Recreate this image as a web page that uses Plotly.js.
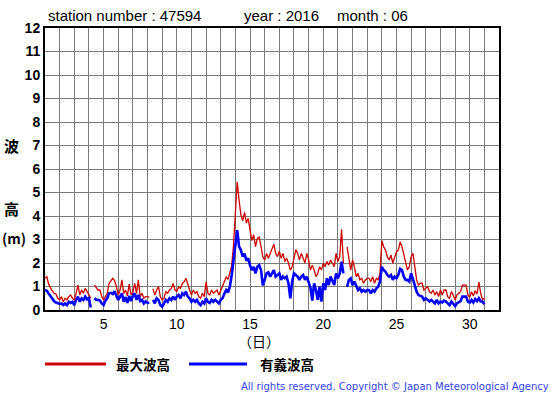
<!DOCTYPE html>
<html><head><meta charset="utf-8">
<script src="https://cdn.plot.ly/plotly-3.0.1.min.js"></script>
<style>html,body{margin:0;padding:0;background:#fff}</style>
</head><body><div id="chart" style="width:555px;height:395px"></div>
<script>
// ---- data (3-hourly readings, day 1 00h .. day 31 00h) ----
const labelDays = [5, 10, 15, 20, 25, 30];
const heightTicks = [0,1,2,3,4,5,6,7,8,9,10,11,12];
const seriesNames = ['最大波高', '有義波高'];
const maxWave = [
 1.35,1.42,1.1,0.92,0.8,0.71,0.68,0.5,
 0.43,0.57,0.35,0.5,0.43,0.57,0.64,0.5,
 0.43,0.71,1.06,0.64,0.85,0.71,0.92,0.78,
 0.64,0.5,null,1.06,0.95,0.85,0.85,0.57,
 0.43,0.6,0.71,1.13,1.25,1.35,1.25,1.0,
 0.64,0.85,1.28,0.71,0.85,0.6,1.1,0.64,
 0.75,1.13,0.71,1.28,0.57,0.71,0.5,0.57,
 0.57,0.55,null,0.9,0.64,0.85,1.0,0.57,
 0.43,0.5,0.78,0.71,0.85,0.92,1.13,0.85,
 0.8,0.99,0.92,1.13,1.2,1.35,1.06,0.85,
 0.64,0.85,0.71,0.78,0.57,0.5,0.71,0.57,
 1.2,0.71,0.64,0.85,0.71,0.78,0.85,0.64,
 0.85,1.0,1.2,1.4,1.3,1.55,1.9,2.8,
 4.1,5.46,4.68,4.05,3.8,4.15,3.7,3.9,
 3.4,2.95,3.2,2.7,3.05,3.1,2.7,2.25,
 2.13,2.4,2.2,2.4,2.6,2.8,2.41,2.27,
 2.5,2.2,2.41,2.06,2.2,2.0,1.7,1.84,
 2.2,2.57,2.41,2.13,2.41,2.2,2.0,2.41,
 2.13,1.7,1.91,1.7,1.42,1.56,1.84,1.7,
 1.99,1.84,2.06,1.91,2.13,1.99,1.84,2.41,
 2.06,2.27,3.43,1.99,null,2.69,2.27,1.7,
 2.13,1.84,1.42,1.56,1.28,1.35,1.14,1.28,
 1.35,1.35,1.21,1.42,1.14,1.35,1.28,1.56,
 2.95,2.69,2.55,2.27,2.13,2.34,1.99,2.27,
 2.48,2.55,2.9,2.69,2.34,1.99,1.7,1.84,
 2.27,2.41,1.7,1.28,1.06,1.14,1.14,0.85,
 0.92,0.99,0.78,0.71,0.85,0.64,0.78,0.57,
 0.85,0.64,0.85,0.85,0.57,0.5,0.78,0.64,
 0.43,0.64,0.71,0.78,1.06,1.06,1.06,0.64,
 0.54,0.78,0.6,0.82,0.68,1.2,0.71,0.43,
 0.5
];
const sigWave = [
 0.85,0.82,0.7,0.6,0.45,0.37,0.32,0.29,
 0.26,0.28,0.21,0.28,0.21,0.35,0.3,0.35,
 0.21,0.43,0.57,0.35,0.5,0.43,0.57,0.45,
 0.5,0.11,null,0.5,0.43,0.43,0.4,0.28,
 0.21,0.4,0.5,0.71,0.73,0.68,0.8,0.6,
 0.43,0.57,0.71,0.35,0.55,0.3,0.6,0.38,
 0.6,0.71,0.43,0.64,0.38,0.43,0.28,0.37,
 0.3,0.31,null,0.43,0.28,0.5,0.43,0.21,
 0.14,0.28,0.43,0.35,0.5,0.43,0.57,0.43,
 0.57,0.64,0.5,0.71,0.64,0.78,0.57,0.5,
 0.35,0.43,0.35,0.43,0.28,0.21,0.35,0.28,
 0.5,0.35,0.3,0.43,0.35,0.43,0.35,0.28,
 0.43,0.5,0.7,0.85,0.75,1.0,1.5,2.2,
 2.8,3.4,2.7,2.55,2.27,2.4,2.1,2.2,
 1.9,1.7,1.84,1.56,1.84,1.91,1.7,1.05,
 1.28,1.56,1.6,1.42,1.56,1.7,1.42,1.49,
 1.56,1.28,1.42,1.35,1.42,1.13,0.5,1.2,
 1.56,1.49,1.42,1.28,1.42,1.49,1.28,1.42,
 1.13,0.95,0.4,1.13,0.85,0.43,0.99,0.36,
 1.13,0.85,1.35,1.06,1.42,1.2,1.06,1.56,
 1.35,1.56,2.06,1.56,null,0.99,1.28,1.35,
 1.06,1.21,0.99,0.85,0.92,0.78,0.85,0.78,
 0.85,0.85,0.71,0.85,0.78,0.92,0.99,1.21,
 1.84,1.7,1.63,1.49,1.42,1.49,1.28,1.42,
 1.35,1.49,1.75,1.7,1.42,1.28,1.28,1.21,
 1.56,1.35,1.06,0.78,0.64,0.6,0.57,0.43,
 0.5,0.43,0.36,0.43,0.36,0.28,0.43,0.28,
 0.36,0.32,0.4,0.36,0.28,0.21,0.36,0.28,
 0.17,0.28,0.33,0.38,0.57,0.57,0.57,0.36,
 0.32,0.43,0.32,0.47,0.38,0.5,0.36,0.36,
 0.25
];
const stepsPerDay = 8;
const time = maxWave.map((_, i) => 1 + i / stepsPerDay);

// ---- layout helpers (pixel -> paper) ----
const L = 45, R = 499, T = 28, B = 310;
const PX = x => (x - L) / (R - L);
const PY = y => (B - y) / (B - T);

const gridDays = [];
for (let d = 1; d <= 32; d++) gridDays.push(d);
const gridText = gridDays.map(d => labelDays.includes(d) ? String(d) : '');

const sans = 'Liberation Sans, Arial, Helvetica, sans-serif';
const cjk = 'Noto Sans CJK JP, sans-serif';

const traces = [
  {x: time, y: maxWave, type: 'scatter', mode: 'lines', name: seriesNames[0],
   line: {color: '#cc0000', width: 1.3}, connectgaps: false, hoverinfo: 'skip'},
  {x: time, y: sigWave, type: 'scatter', mode: 'lines', name: seriesNames[1],
   line: {color: '#0000ff', width: 2.6}, connectgaps: false, hoverinfo: 'skip'}
];

function ann(text, x, y, opts) {
  return Object.assign({text: text, x: PX(x), y: PY(y), xref: 'paper', yref: 'paper',
    showarrow: false, xanchor: 'left', yanchor: 'middle',
    font: {family: sans, size: 14, color: '#000'}}, opts || {});
}

const annotations = [
  ann('station number : 47594', 46, 16, {font: {family: sans, size: 15, color: '#000'}}),
  ann('year : 2016', 242, 16, {font: {family: sans, size: 15, color: '#000'}}),
  ann('month : 06', 335, 16, {font: {family: sans, size: 15, color: '#000'}}),
  ann('波', 11, 145, {xanchor: 'center', font: {family: cjk, size: 15, color: '#000', weight: 'bold'}}),
  ann('高', 11, 208, {xanchor: 'center', font: {family: cjk, size: 15, color: '#000', weight: 'bold'}}),
  ann('(m)', 14, 238, {xanchor: 'center', font: {family: cjk, size: 14, color: '#000', weight: 'bold'}}),
  ann('（日）', 259, 341, {xanchor: 'center', font: {family: cjk, size: 14, color: '#000'}}),
  ann(seriesNames[0], 114, 364, {font: {family: cjk, size: 13.5, color: '#000', weight: 'bold'}}),
  ann(seriesNames[1], 258, 364, {font: {family: cjk, size: 13.5, color: '#000', weight: 'bold'}}),
  ann('All rights reserved. Copyright © Japan Meteorological Agency', 551, 386,
      {xanchor: 'right', font: {family: 'DejaVu Sans, sans-serif', size: 10, color: '#3344ee'}})
];

const shapes = [
  {type: 'line', xref: 'paper', yref: 'paper', x0: PX(45), x1: PX(106), y0: PY(364), y1: PY(364),
   line: {color: '#cc0000', width: 3}},
  {type: 'line', xref: 'paper', yref: 'paper', x0: PX(189), x1: PX(247), y0: PY(364), y1: PY(364),
   line: {color: '#0000ff', width: 3}}
];

const layout = {
  width: 555, height: 395,
  margin: {l: L, r: 555 - R, t: T, b: 395 - B, pad: 0},
  paper_bgcolor: '#fff', plot_bgcolor: '#fff',
  showlegend: false,
  xaxis: {range: [1, 32], tickmode: 'array', tickvals: gridDays, ticktext: gridText,
    showgrid: true, gridcolor: '#7a7a7a', gridwidth: 1, zeroline: false,
    showline: true, mirror: true, linecolor: '#000', linewidth: 2, ticks: '',
    tickfont: {family: sans, size: 14, color: '#000'}, fixedrange: true},
  yaxis: {range: [0, 12], tickmode: 'array', tickvals: heightTicks,
    showgrid: true, gridcolor: '#7a7a7a', gridwidth: 1, zeroline: false,
    showline: true, mirror: true, linecolor: '#000', linewidth: 2, ticks: '',
    tickfont: {family: sans, size: 14, color: '#000', weight: 'bold'}, fixedrange: true},
  annotations: annotations,
  shapes: shapes
};

Plotly.newPlot('chart', traces, layout, {staticPlot: true, displayModeBar: false});
</script>
</body></html>
